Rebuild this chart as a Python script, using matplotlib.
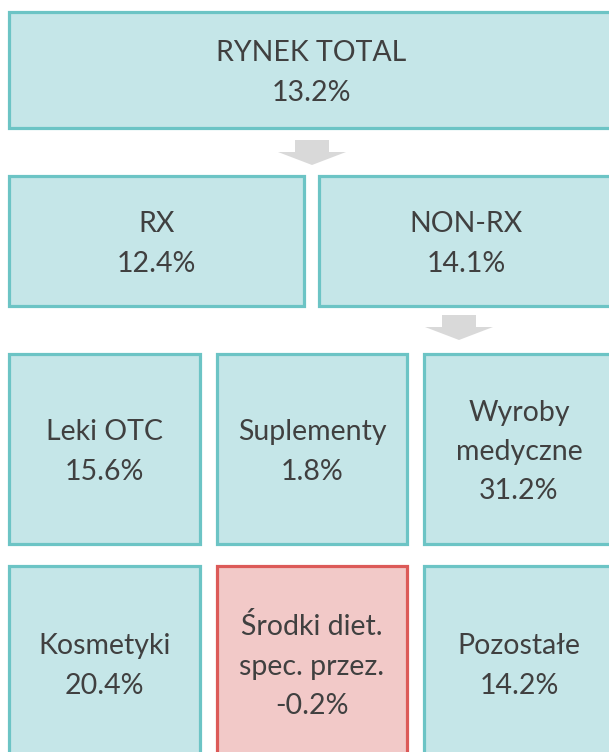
import matplotlib
matplotlib.use("Agg")
import matplotlib.pyplot as plt
from matplotlib.patches import Rectangle, Polygon

# growth per market segment
labels = ["RYNEK TOTAL", "RX", "NON-RX", "Leki OTC", "Suplementy", "Wyroby\nmedyczne",
          "Kosmetyki", "Środki diet.\nspec. przez.", "Pozostałe"]
values = [13.2, 12.4, 14.1, 15.6, 1.8, 31.2, 20.4, -0.2, 14.2]

# box layout in pixels: x0, y0, x1, y1
boxes = [
    (9, 12, 614, 128),
    (9, 176, 304, 306),
    (319, 176, 614, 306),
    (9, 354, 200, 544),
    (217, 354, 407, 544),
    (424, 354, 614, 544),
    (9, 566, 200, 760),
    (217, 566, 407, 760),
    (424, 566, 614, 760),
]
# arrows: centre x, top y
arrows = [(312, 140), (459, 315)]

W, H = 609, 752
fig = plt.figure(figsize=(W / 100, H / 100), dpi=100)
ax = fig.add_axes([0, 0, 1, 1])
ax.set_xlim(0, W)
ax.set_ylim(H, 0)
ax.axis("off")

teal_edge = "#6CC4C5"
teal_fill = "#C5E6E8"
red_edge = "#DC5A58"
red_fill = "#F2C9C8"
text_col = "#404040"

for lab, val, (x0, y0, x1, y1) in zip(labels, values, boxes):
    neg = val < 0
    ax.add_patch(Rectangle((x0, y0), x1 - x0, y1 - y0,
                           facecolor=red_fill if neg else teal_fill,
                           edgecolor=red_edge if neg else teal_edge,
                           linewidth=2.3, clip_on=False))
    txt = "{0}\n{1:.1f}%".format(lab, val)
    ax.text((x0 + x1) / 2, (y0 + y1) / 2 + 3, txt, ha="center", va="center",
            fontsize=20.5, family="Lato", color=text_col, linespacing=1.62)

for cx, ty in arrows:
    pts = [(cx - 17, ty), (cx + 17, ty), (cx + 17, ty + 12), (cx + 34, ty + 12),
           (cx, ty + 25), (cx - 34, ty + 12), (cx - 17, ty + 12)]
    ax.add_patch(Polygon(pts, closed=True, facecolor="#D9D9D9", edgecolor="none"))

fig.savefig("out.png", dpi=100)
